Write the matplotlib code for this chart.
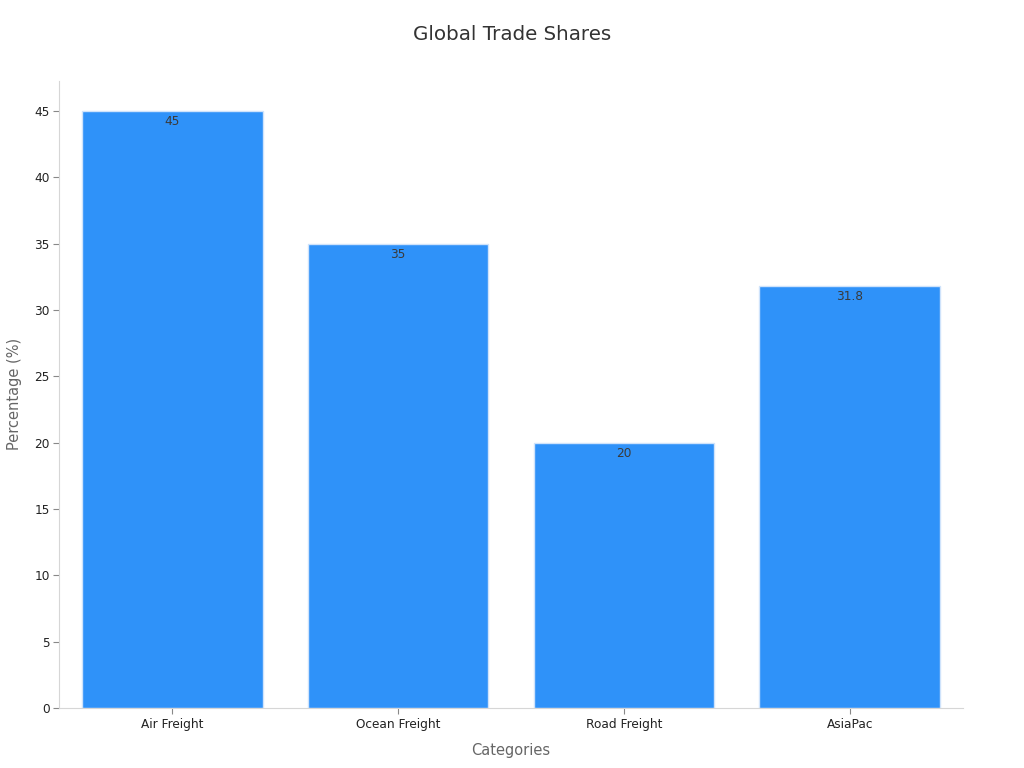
import matplotlib
matplotlib.use("Agg")
import matplotlib.pyplot as plt

# chart data
categories = ["Air Freight", "Ocean Freight", "Road Freight", "AsiaPac"]
shares = [45, 35, 20, 31.8]
labels = ["45", "35", "20", "31.8"]

fig, ax = plt.subplots(figsize=(10.24, 7.68), dpi=100)
fig.subplots_adjust(left=0.058, right=0.94, top=0.895, bottom=0.078)

bars = ax.bar(range(len(categories)), shares, width=0.8, color="#2f92f9",
              edgecolor="#cfe3fb", linewidth=1)

for b, lab in zip(bars, labels):
    ax.text(b.get_x() + b.get_width() / 2, b.get_height() - 0.3, lab,
            ha="center", va="top", fontsize=8.7, color="#3a3a3a")

ax.set_xlim(-0.5, 3.5)
ax.set_ylim(0, 47.3)
ax.set_yticks(range(0, 50, 5))
ax.set_xticks(range(len(categories)))
ax.set_xticklabels(categories)

ax.spines["top"].set_visible(False)
ax.spines["right"].set_visible(False)
for s in ["left", "bottom"]:
    ax.spines[s].set_color("#d6d6d6")
ax.tick_params(axis="both", colors="#888888", labelcolor="#222222", labelsize=8.7, length=4, pad=3)

ax.set_xlabel("Categories", fontsize=10.5, color="#666666", labelpad=9)
ax.set_ylabel("Percentage (%)", fontsize=10.5, color="#666666", labelpad=9)
fig.suptitle("Global Trade Shares", fontsize=14.3, color="#333333", y=0.968)

plt.savefig("out.png", dpi=100)
